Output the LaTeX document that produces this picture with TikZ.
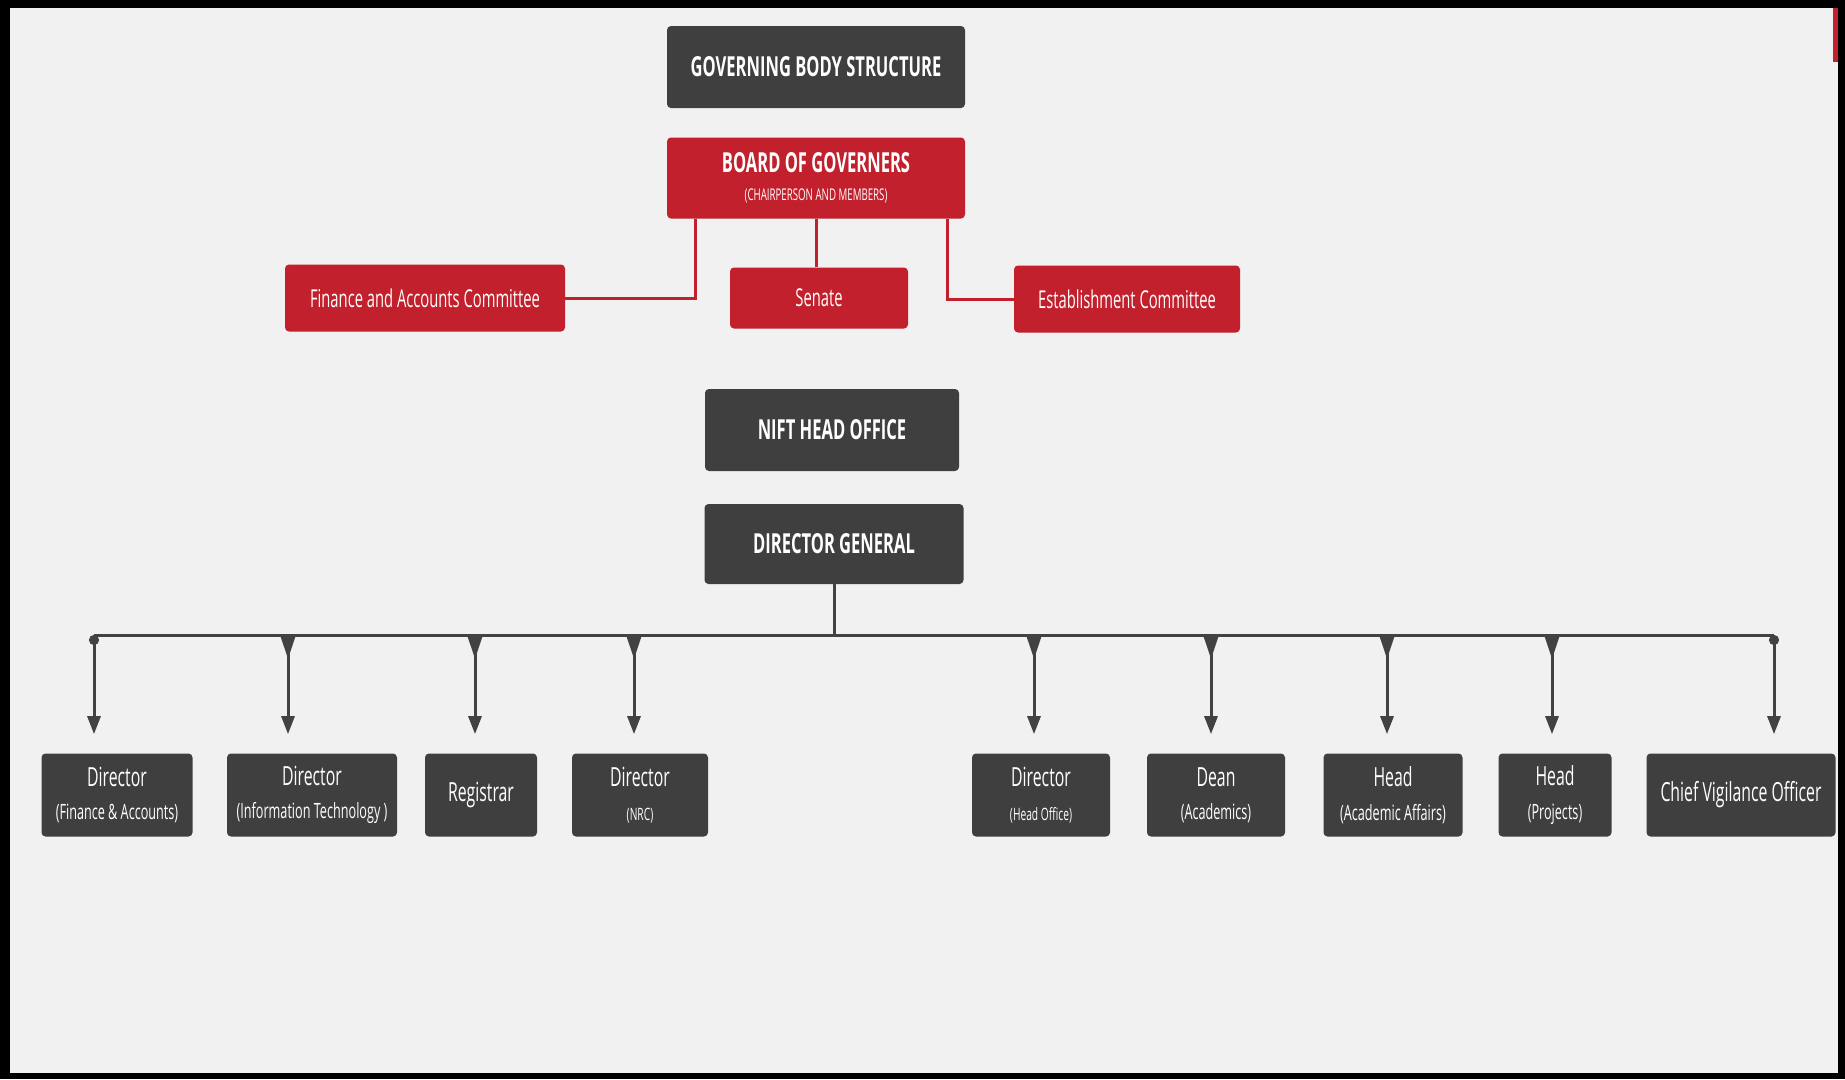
\documentclass[tikz,border=0pt]{standalone}
\usepackage{fontspec}
\setmainfont{Open Sans}[FakeStretch=0.6]
\usetikzlibrary{arrows.meta}
\newlength\pxu
\setlength\pxu{0.02cm}
\definecolor{boxgray}{HTML}{3F3F3F}
\definecolor{boxred}{HTML}{C1202C}
\definecolor{linegray}{HTML}{424242}
\definecolor{paper}{HTML}{F1F1F1}
\newcommand\subline[1]{{\fontsize{12}{14}\selectfont #1}}
\newcommand\smallsub[1]{{\fontsize{9.7}{11}\selectfont #1}}
\tikzset{
  box/.style={rounded corners=4\pxu, text=white, align=center, inner sep=0pt},
  darkbox/.style={box, fill=boxgray, font=\fontsize{15.7}{18}\selectfont\bfseries},
  redbox/.style={box, fill=boxred, font=\fontsize{14}{16}\selectfont},
  postbox/.style={box, fill=boxgray, minimum height=83\pxu, font=\fontsize{15}{17}\selectfont},
  redline/.style={draw=boxred, line width=3\pxu},
  busline/.style={draw=linegray, line width=3\pxu},
  feed/.style={busline, {Triangle[reversed, length=0.48cm, width=0.3cm]}-{Triangle[length=0.36cm, width=0.26cm]}, shorten >=0.38cm},
  endfeed/.style={busline, {Circle[length=0.2cm]}-{Triangle[length=0.36cm, width=0.26cm]}, shorten >=0.38cm},
}
\begin{document}
\begin{tikzpicture}[x=1\pxu, y=-1\pxu]
  % frame and background
  \fill (0,0) rectangle (1845,1079);
  \fill[paper] (10,8) rectangle (1838,1073);
  \fill[boxred] (1833,8) rectangle (1838,62);
  \useasboundingbox (0,0) rectangle (1845,1079);

  % governing body
  \node[darkbox, minimum width=298\pxu, minimum height=82\pxu] (gbs) at (816,67) {GOVERNING BODY STRUCTURE};
  \node[darkbox, fill=boxred, minimum width=298\pxu, minimum height=81\pxu] (bog) at (816,178) {BOARD OF GOVERNERS\\[-2pt]{\fontsize{9.2}{10}\selectfont\mdseries (CHAIRPERSON AND MEMBERS)}};
  \node[redbox, minimum width=280\pxu, minimum height=67\pxu] (fac) at (425,298) {Finance and Accounts Committee};
  \node[redbox, minimum width=178\pxu, minimum height=61\pxu] (senate) at (819,298) {Senate};
  \node[redbox, minimum width=226\pxu, minimum height=67\pxu] (estc) at (1127,299) {Establishment Committee};

  \coordinate (bl) at (695,219);
  \coordinate (br) at (947,219);
  \draw[redline] (fac.east) -| (bl);
  \draw[redline] (bog.south) -- (bog.south |- senate.north);
  \draw[redline] (estc.west) -| (br);

  % head office
  \node[darkbox, minimum width=254\pxu, minimum height=82\pxu] (nho) at (832,430) {NIFT HEAD OFFICE};
  \node[darkbox, minimum width=259\pxu, minimum height=80\pxu] (dg) at (834,544) {DIRECTOR GENERAL};

  % posts
  \node[postbox, minimum width=151\pxu] (dfa) at (117,795) {Director\\[2pt]\subline{(Finance \& Accounts)}};
  \node[postbox, minimum width=170\pxu] (dit) at (312,795) {Director\\[2pt]\subline{(Information Technology )}};
  \node[postbox, minimum width=112\pxu] (reg) at (481,795) {Registrar};
  \node[postbox, minimum width=136\pxu] (dnrc) at (640,795) {Director\\[2pt]\smallsub{(NRC)}};
  \node[postbox, minimum width=138\pxu] (dho) at (1041,795) {Director\\[2pt]\smallsub{(Head Office)}};
  \node[postbox, minimum width=138\pxu] (dean) at (1216,795) {Dean\\[2pt]\subline{(Academics)}};
  \node[postbox, minimum width=139\pxu] (haa) at (1393,795) {Head\\[2pt]\subline{(Academic Affairs)}};
  \node[postbox, minimum width=113\pxu] (hproj) at (1555,795) {Head\\[2pt]\subline{(Projects)}};
  \node[postbox, minimum width=189\pxu] (cvo) at (1741,795) {Chief Vigilance Officer};

  % bus
  \coordinate (t1) at (94,635);
  \coordinate (t2) at (288,635);
  \coordinate (t3) at (475,635);
  \coordinate (t4) at (634,635);
  \coordinate (t5) at (1034,635);
  \coordinate (t6) at (1211,635);
  \coordinate (t7) at (1387,635);
  \coordinate (t8) at (1552,635);
  \coordinate (t9) at (1774,635);
  \draw[busline] (t1) -- (t9);
  \draw[busline] (dg.south) -- (dg.south |- t1);

  \draw[endfeed] (t1) -- (t1 |- dfa.north);
  \draw[feed] (t2) -- (t2 |- dit.north);
  \draw[feed] (t3) -- (t3 |- reg.north);
  \draw[feed] (t4) -- (t4 |- dnrc.north);
  \draw[feed] (t5) -- (t5 |- dho.north);
  \draw[feed] (t6) -- (t6 |- dean.north);
  \draw[feed] (t7) -- (t7 |- haa.north);
  \draw[feed] (t8) -- (t8 |- hproj.north);
  \draw[endfeed] (t9) -- (t9 |- cvo.north);
\end{tikzpicture}
\end{document}
